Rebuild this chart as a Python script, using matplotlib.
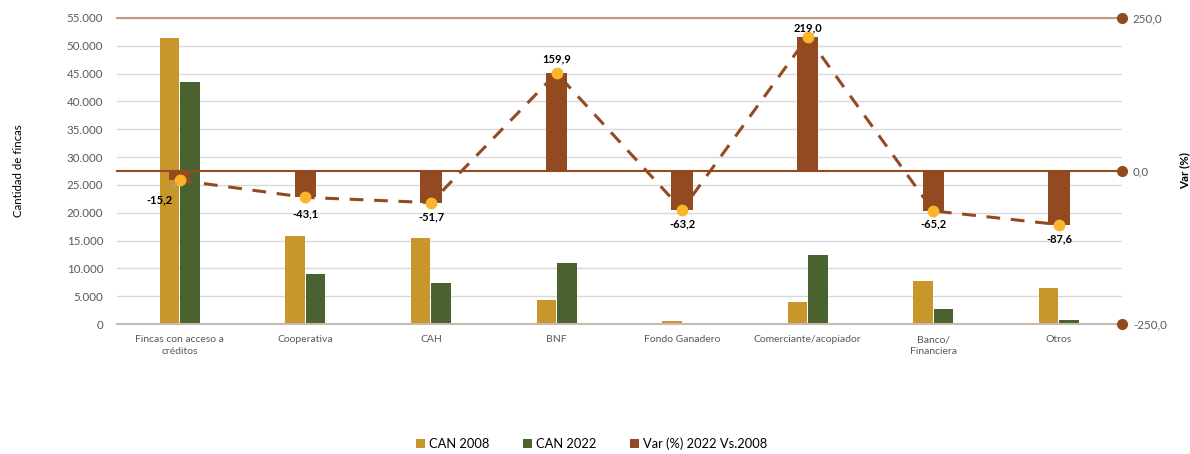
import matplotlib.pyplot as plt
import numpy as np
from matplotlib.ticker import FuncFormatter

plt.rcParams['font.family'] = ['Lato', 'DejaVu Sans']

categorias = ['Fincas con acceso a\ncréditos', 'Cooperativa', 'CAH', 'BNF',
              'Fondo Ganadero', 'Comerciante/acopiador', 'Banco/\nFinanciera', 'Otros']
can_2008 = [51380, 15800, 15450, 4250, 540, 3900, 7730, 6470]
can_2022 = [43570, 8990, 7460, 11050, 200, 12440, 2690, 800]
var_pct = [-15.2, -43.1, -51.7, 159.9, -63.2, 219.0, -65.2, -87.6]

# label offsets (pixels) for the variation labels
offsets = [(-20, -20), (0, -16), (0, -14), (0, 14), (0, -14), (0, 9), (0, -13), (0, -14)]

c_2008 = '#c8962a'
c_2022 = '#4a6130'
c_var = '#934a20'
c_dot = '#fbb52b'
gris = '#595959'

fig = plt.figure(figsize=(11.9, 4.54), dpi=100)
ax = fig.add_axes([0.0983, 0.2863, 0.8443, 0.6741])
ax2 = ax.twinx()

x = np.arange(len(categorias))
w = 0.155
ax.bar(x - w / 2 - 0.004, can_2008, w, color=c_2008, label='CAN 2008', zorder=2)
ax.bar(x + w / 2 + 0.004, can_2022, w, color=c_2022, label='CAN 2022', zorder=2)

ax.set_xlim(-0.5, len(categorias) - 0.5)
ax.set_ylim(0, 55000)
ax.set_yticks(np.arange(0, 55001, 5000))
ax.yaxis.set_major_formatter(FuncFormatter(lambda v, p: f'{v:,.0f}'.replace(',', '.')))
ax.grid(axis='y', color='#d9d9d9', linewidth=1, zorder=0)
ax.set_axisbelow(True)
ax.set_xticks(x)
ax.set_xticklabels(categorias, fontsize=7.5, color=gris, linespacing=1.4)
ax.tick_params(axis='both', length=0, labelsize=8.3, colors=gris)
ax.tick_params(axis='x', pad=8, labelsize=7.5)
ax.tick_params(axis='y', pad=10)
ax.set_ylabel('Cantidad de fincas', fontsize=8.3, color='black')
ax.yaxis.set_label_coords(-0.093, 0.5)
for s in ax.spines.values():
    s.set_visible(False)
for s in ax2.spines.values():
    s.set_visible(False)

# variation series on the secondary axis
ax2.set_ylim(-250, 250)
ax2.set_yticks([-250, 0, 250])
ax2.yaxis.set_major_formatter(FuncFormatter(lambda v, p: f'{v:.1f}'.replace('.', ',')))
ax2.tick_params(axis='y', length=0, labelsize=8.3, colors=gris, pad=8)
ax2.set_ylabel('Var (%)', fontsize=8.3, fontweight='bold')
ax2.yaxis.set_label_coords(1.0577, 0.5)

ax2.bar(x, var_pct, 0.17, color=c_var, label='Var (%) 2022 Vs.2008', zorder=3)
ax2.plot(x, var_pct, color=c_var, linestyle=(0, (4.5, 3.5)), linewidth=2.2, zorder=4)
ax2.plot(x, var_pct, linestyle='none', marker='o', markersize=7.5,
         markerfacecolor=c_dot, markeredgecolor=c_dot, zorder=5)

# reference lines at the secondary ticks, ending with a dot
for val, col in [(250, '#c49a86'), (0, c_var), (-250, '#c9b8ae')]:
    ax2.plot([-0.5, len(categorias) - 0.5], [val, val], color=col, linewidth=1.5,
             zorder=2 if val else 3.5, clip_on=False)
    ax2.plot([len(categorias) - 0.5], [val], marker='o', markersize=7,
             color=c_var, clip_on=False, zorder=6)

for i, v in enumerate(var_pct):
    dx, dy = offsets[i]
    txt = f'{v:.1f}'.replace('.', ',')
    ax2.annotate(txt, (x[i], v), xytext=(dx, dy), textcoords='offset pixels',
                 ha='center', va='center', fontsize=8, fontweight='bold', zorder=7,
                 arrowprops=dict(arrowstyle='-', color='#a6a6a6', lw=0.8,
                                 shrinkA=4, shrinkB=3) if dx else None)

h1, l1 = ax.get_legend_handles_labels()
h2, l2 = ax2.get_legend_handles_labels()
fig.legend(h1 + h2, l1 + l2, loc='center', bbox_to_anchor=(0.497, 0.022), ncol=3,
           frameon=False, fontsize=9.3, handlelength=0.7, handleheight=0.7,
           handletextpad=0.3, columnspacing=2.6)

fig.savefig('out.png', dpi=100)
